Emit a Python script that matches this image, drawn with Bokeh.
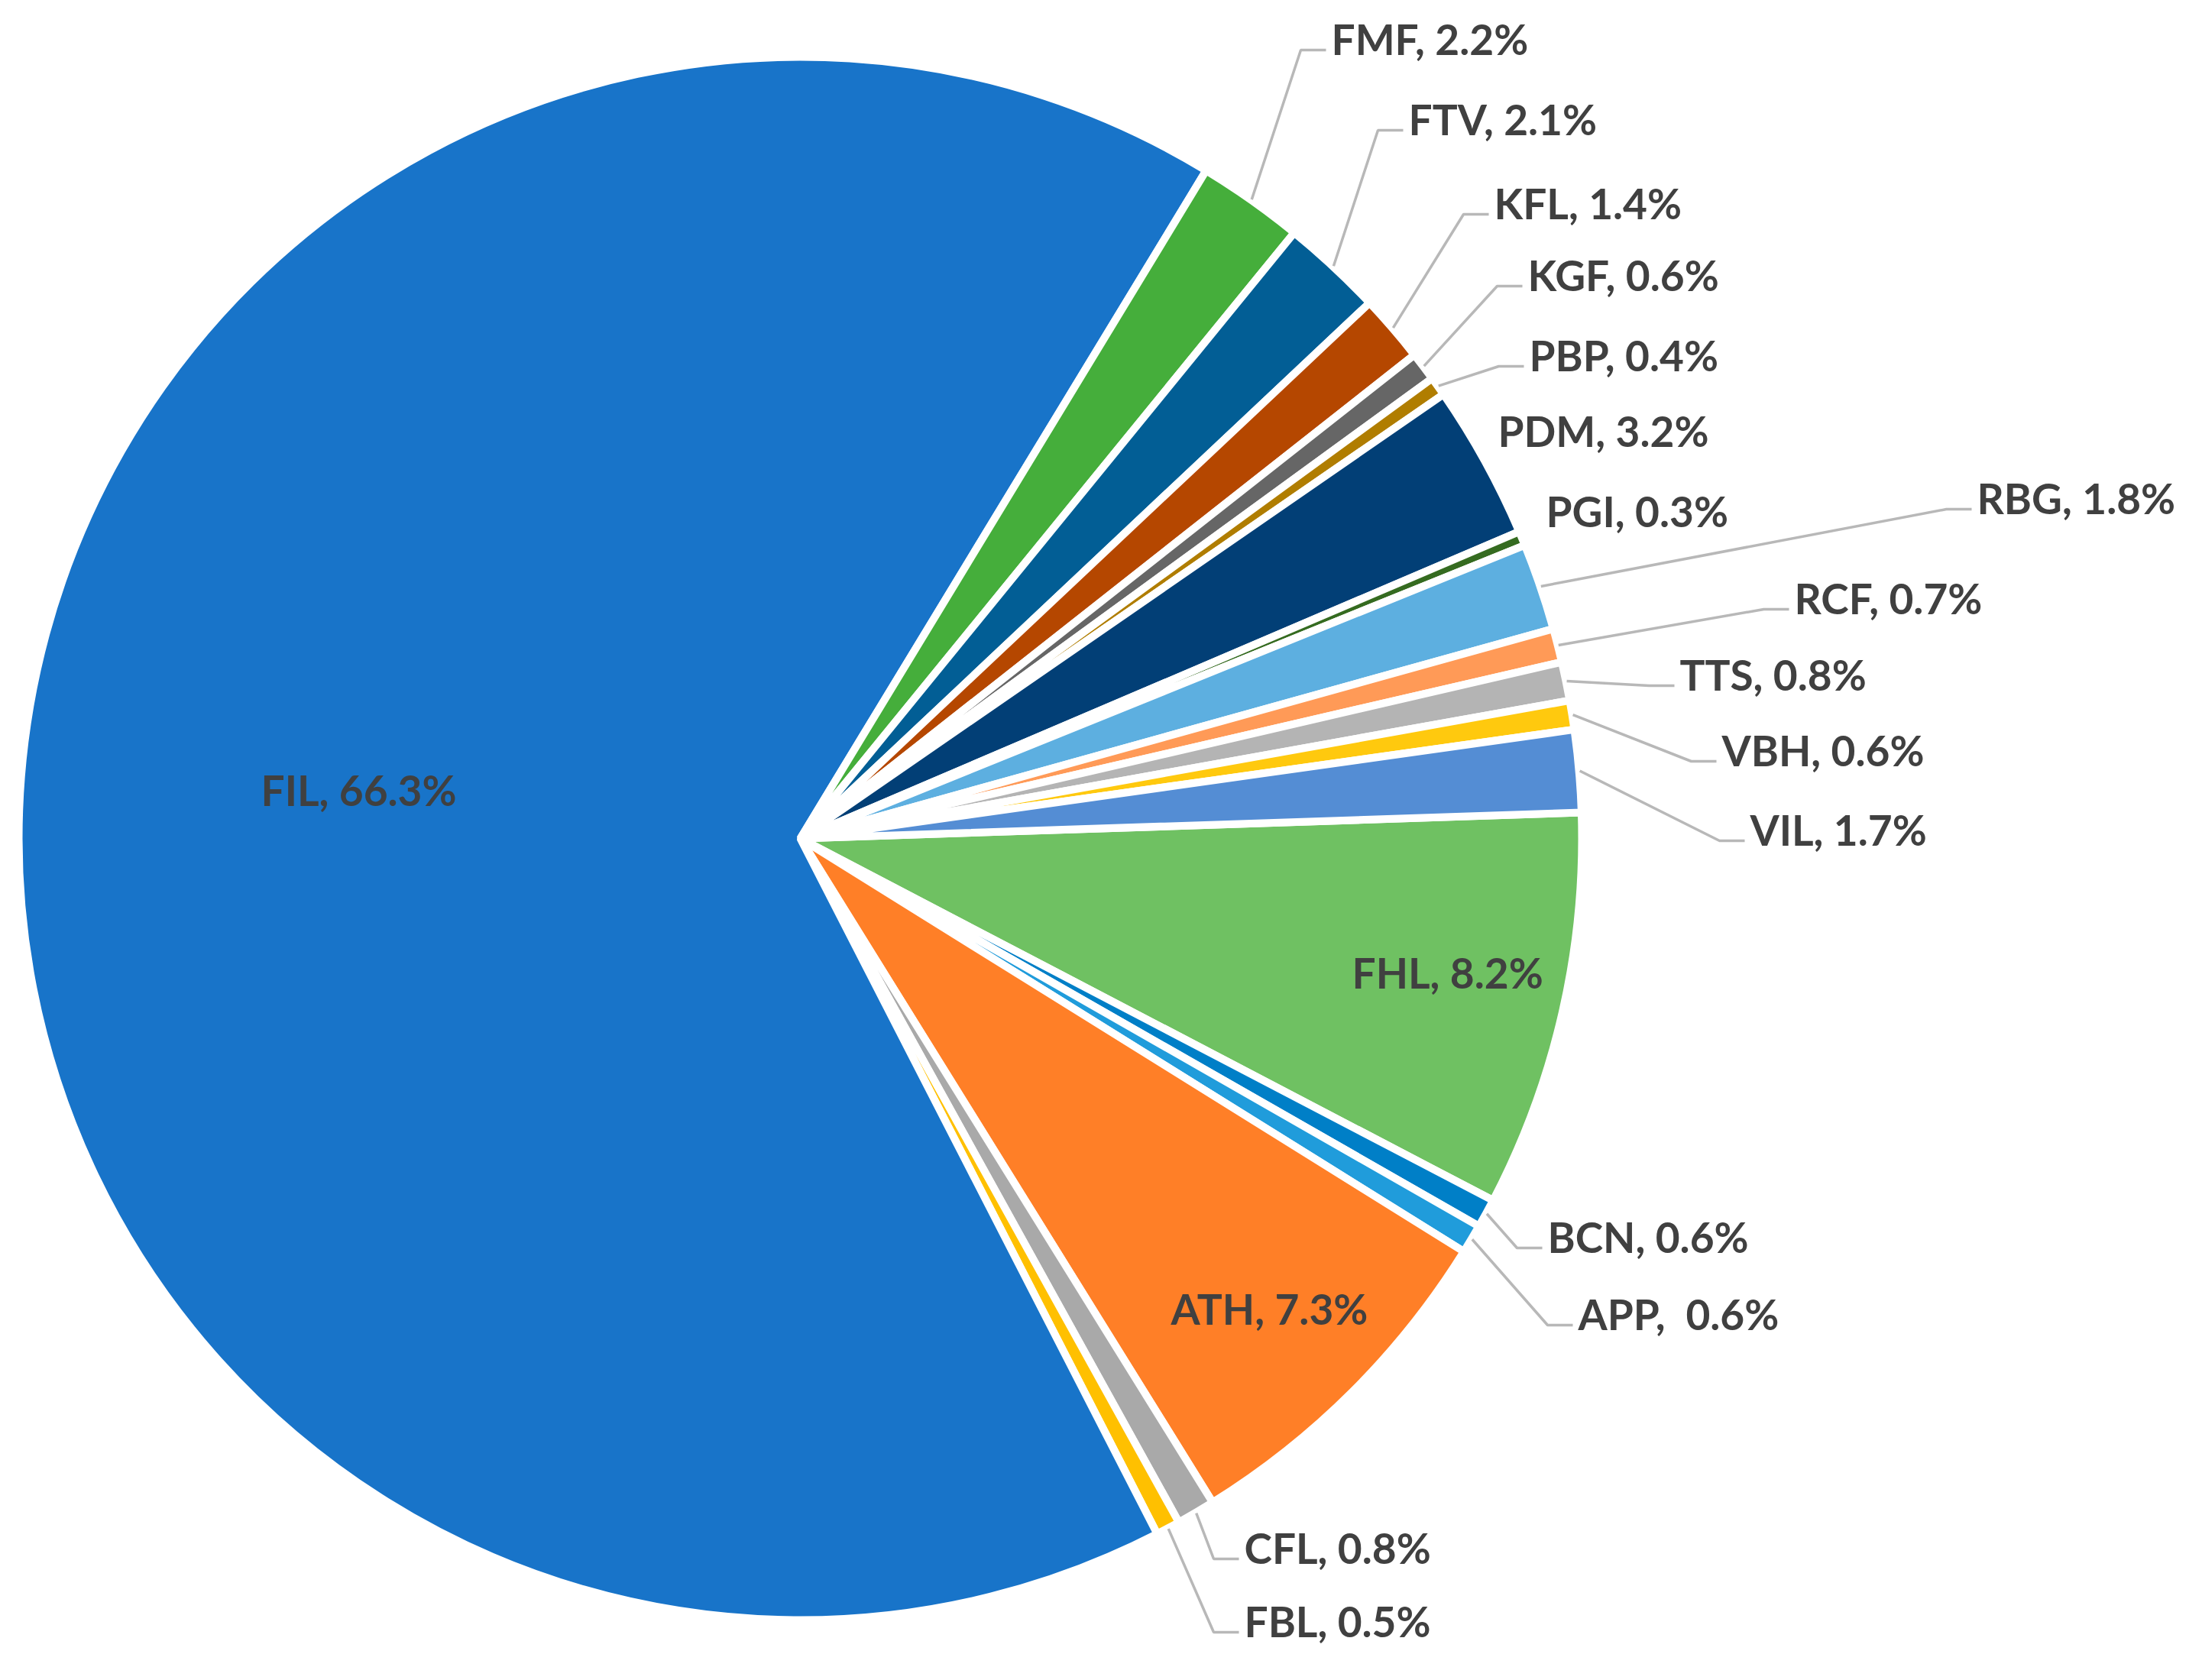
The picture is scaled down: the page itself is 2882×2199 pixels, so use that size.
import numpy as np
from bokeh.plotting import figure
from bokeh.models import Range1d, ColumnDataSource
from bokeh.embed import file_html
from bokeh.resources import INLINE
from bokeh.core.properties import value

# ---------------- data (clockwise order, starting at 3 o'clock) ----------------
categories = ["FHL", "BCN", "APP", "ATH", "CFL", "FBL", "FIL", "FMF", "FTV", "KFL",
              "KGF", "PBP", "PDM", "PGI", "RBG", "RCF", "TTS", "VBH", "VIL"]
shares = [8.2, 0.6, 0.6, 7.3, 0.8, 0.5, 66.3, 2.2, 2.1, 1.4,
          0.6, 0.4, 3.2, 0.3, 1.8, 0.7, 0.8, 0.6, 1.7]
label_texts = ["FHL, 8.2%", "BCN, 0.6%", "APP,\u00a0 0.6%", "ATH, 7.3%", "CFL, 0.8%",
               "FBL, 0.5%", "FIL, 66.3%", "FMF, 2.2%", "FTV, 2.1%", "KFL, 1.4%",
               "KGF, 0.6%", "PBP, 0.4%", "PDM, 3.2%", "PGI, 0.3%", "RBG, 1.8%",
               "RCF, 0.7%", "TTS, 0.8%", "VBH, 0.6%", "VIL, 1.7%"]

# ---------------- styles / layout ----------------
colors = ["#6FC162", "#007FC7", "#209CDB", "#FF7F27", "#A9A9A9", "#FFC000",
          "#1874C9", "#45AE3B", "#025E95", "#B54700", "#666666", "#B07D00",
          "#023F76", "#356B20", "#5DAFE0", "#FF9A57", "#B4B4B4", "#FFC90E",
          "#548DD4"]
# label anchor (left edge x, vertical centre y) in page pixels, and label mode
label_x = [1777, 2033, 2073, 1540, 1636, 1636, 349, 1750, 1851, 1963,
           2007, 2009, 1968, 2031, 2595, 2356, 2206, 2261, 2298]
label_y = [1277, 1623, 1724, 1717, 2030, 2126, 1038, 55, 160, 270,
           364, 469, 568, 673, 656, 787, 887, 986, 1090]
label_mode = ["in", "lead", "lead", "in", "lead", "lead", "in", "lead", "lead", "lead",
              "lead", "lead", "plain", "plain", "lead", "lead", "lead", "lead", "lead"]

W, H = 2882, 2199
CX, CY = 1055, 1105        # pie centre (page pixels)
R_VIS = 1018               # visible radius
BORDER = 10                # white separator width
START_CW = 88.1            # clockwise angle from 12 o'clock where the first slice starts
FONT = "Lato"
FONT_SIZE = "55px"
TEXT_COLOR = "#404040"
TEXT_DY = 3                # small vertical nudge of label text


def fy(y):  # page pixel y -> data y (upwards)
    return H - y


vals = np.array(shares, dtype=float)
frac = vals / vals.sum()
cw_start = START_CW + 360.0 * np.concatenate([[0.0], np.cumsum(frac)[:-1]])
cw_end = cw_start + 360.0 * frac
cw_mid = (cw_start + cw_end) / 2.0

src = ColumnDataSource(dict(
    cat=categories,
    start=np.radians(90.0 - cw_end),   # math angles (counter-clockwise from 3 o'clock)
    end=np.radians(90.0 - cw_start),
    color=colors,
))

p = figure(width=W - 16, height=H - 16,
           x_range=Range1d(8, W - 8), y_range=Range1d(8, H - 8),
           output_backend="svg", toolbar_location=None,
           x_axis_location=None, y_axis_location=None, min_border=0)
p.grid.visible = False
p.outline_line_color = None
p.background_fill_color = "white"
p.border_fill_color = "white"

p.wedge(x=CX, y=fy(CY), radius=R_VIS + BORDER / 2, start_angle="start", end_angle="end",
        fill_color="color", line_color="white", line_width=BORDER, source=src)

# leader lines
lx, ly = [], []
for i, mode in enumerate(label_mode):
    if mode != "lead":
        continue
    th = np.radians(cw_mid[i])
    r0 = R_VIS + 6
    sx, sy = CX + r0 * np.sin(th), CY - r0 * np.cos(th)
    ey = label_y[i] + 18
    lx.append([sx, label_x[i] - 40, label_x[i] - 7])
    ly.append([fy(sy), fy(ey), fy(ey)])
p.multi_line(xs=lx, ys=ly, line_color="#B8B8B8", line_width=3.5)

# labels
tsrc = ColumnDataSource(dict(
    x=label_x, y=[fy(v + TEXT_DY) for v in label_y], text=label_texts))
p.text(x="x", y="y", text="text", source=tsrc, text_align="left",
       text_baseline="middle", text_color=TEXT_COLOR,
       text_font=value(FONT), text_font_size=FONT_SIZE, text_font_style="bold")

open("out.html", "w").write(file_html(p, INLINE))
